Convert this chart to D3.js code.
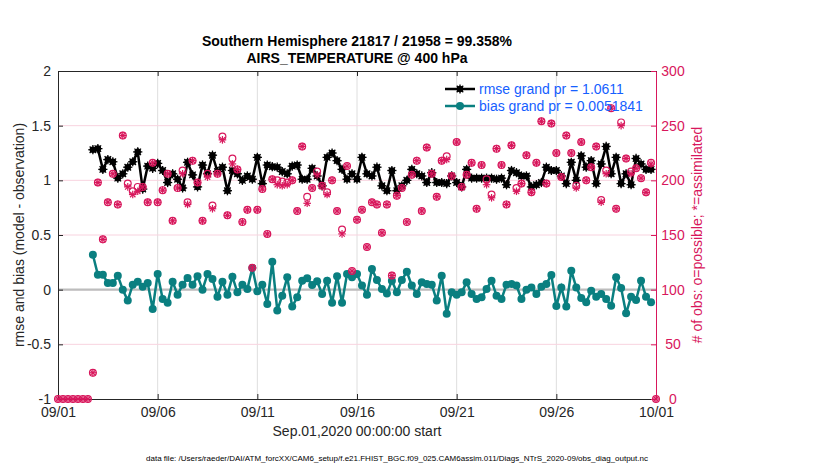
<!DOCTYPE html>
<html>
<head>
<meta charset="utf-8">
<script src="https://cdn.jsdelivr.net/npm/d3@7"></script>
<style>
  body { margin: 0; background: #fff; }
  svg text { font-family: "Liberation Sans", Arial, Helvetica, sans-serif; }
</style>
</head>
<body>
<div id="chart"></div>
<script>
// 6-hourly bins, index 0 = Sep.01,2020 00:00, index 120 = Oct.01 00:00
var startDate = "2020-09-01T00:00:00Z",
    endDate = "2020-10-01T00:00:00Z";

var rmse = [null, null, null, null, null, null, null,
  1.28, 1.29, 1.10, 1.19, 1.17, 1.02, 1.06, 1.12, 1.17, 1.26,
  0.92, 1.13, 1.11, 1.155, 1.09, 0.98, 1.06, 1.01, 0.93, 1.165,
  1.05, 0.94, 1.14, 1.06, 1.23, 1.08, 1.12, 0.905, 1.09, 1.06,
  1.00, 1.04, 1.01, 1.21, 0.97, 1.14, 1.125, 1.12, 1.08, 1.06,
  1.13, 1.14, 1.01, 1.01, 1.11, 1.04, 0.95, 1.21, 1.25, 1.18,
  1.10, 1.01, 1.06, 1.01, 1.21, 1.06, 1.04, 1.12, 0.95, 0.905,
  1.09, 0.905, 0.95, 1.00, 1.10, 1.06, 1.04, 0.98, 1.07, 0.98,
  0.98, 0.97, 1.04, 0.98, 0.94, 1.10, 1.02, 1.02, 1.02, 1.02,
  1.02, 1.01, 1.02, 0.96, 1.09, 1.07, 1.04, 1.04, 0.94, 0.96,
  0.98, 1.12, 1.09, 1.09, 1.04, 0.97, 1.165, 1.00, 1.225, 1.12,
  1.18, 0.97, 1.15, 1.31, 1.06, 1.21, 0.97, 1.06, 0.96, 1.20,
  1.15, 1.10, 1.10,
  null];

var bias = [null, null, null, null, null, null, null,
  0.32, 0.137, 0.137, 0.06, 0.06, 0.128, 0.0, -0.10, 0.045, 0.073,
  0.027, 0.06, -0.177, 0.143, -0.085, -0.12, 0.073, -0.046, 0.045, 0.107,
  0.045, 0.122, 0.0, 0.143, 0.098, -0.064, 0.073, -0.046, 0.119, -0.024,
  0.045, 0.006, 0.198, -0.015, 0.045, -0.13, 0.256, -0.19, -0.055, 0.113,
  -0.155, -0.07, 0.082, 0.104, 0.043, 0.076, -0.04, 0.082, -0.12, 0.122,
  -0.12, 0.143, 0.113, 0.143, 0.037, -0.046, 0.19, 0.088, 0.006, -0.034,
  0.082, -0.024, 0.088, 0.165, 0.037, -0.04, 0.067, 0.052, 0.046, -0.10,
  0.128, -0.22, -0.024, -0.046, -0.024, 0.067, -0.04, -0.085, -0.07, 0.006,
  0.082, -0.055, -0.085, 0.046, 0.052, 0.037, -0.085, 0.0, 0.02, -0.04,
  0.027, 0.052, 0.134, -0.15, 0.02, -0.155, 0.174, 0.02, -0.076, -0.116,
  -0.01, -0.064, -0.04, -0.085, -0.146, 0.113, 0.015, -0.216, -0.064, -0.095,
  0.082, -0.064, -0.116,
  null];

// number of obs: o = possible, * = assimilated
var nPossible = [
  0, 0, 0, 0, 0, 0, 0, 24, 198, 146,
  180, 206, 178, 241, 197, 190, 194, 194, 180, 216,
  180, 191, 206, 163, 193, 209, 180, 218, 198, 163,
  206, 177, 206, 240, 168, 220, 210, 162, 173, 120,
  173, 192, 151, 201, 200, 199, 198, 200, 172, 231,
  185, 193, 208, 195, 189, 200, 172, 155, 213, 117,
  164, 173, 139, 180, 178, 152, 178, 113, 186, 193,
  162, 205, 218, 172, 230, 206, 185, 218, 222, 204,
  235, 194, 205, 216, 174, 214, 201, 187, 229, 214,
  178, 232, 193, 197, 223, 189, 216, 254, 197, 252,
  225, 203, 241, 225, 195, 235, 200, 212, 231, 182,
  209, 266, 174, 253, 220, 208, 211, 202, 189, 216,
  0];

var nAssim = [
  0, 0, 0, 0, 0, 0, 0, 24, 198, 146,
  180, 206, 178, 241, 194, 187, 190, 194, 180, 216,
  180, 191, 206, 163, 193, 206, 178, 218, 198, 163,
  203, 174, 206, 237, 168, 215, 210, 162, 173, 120,
  173, 192, 151, 201, 196, 195, 196, 200, 172, 231,
  179, 193, 205, 195, 187, 200, 172, 151, 213, 117,
  164, 173, 139, 180, 178, 152, 178, 113, 186, 193,
  162, 205, 218, 172, 230, 206, 185, 218, 219, 204,
  235, 194, 205, 216, 174, 214, 196, 184, 229, 214,
  178, 232, 190, 197, 223, 189, 216, 254, 197, 252,
  225, 203, 241, 225, 193, 235, 200, 212, 231, 180,
  206, 266, 174, 250, 220, 206, 211, 202, 189, 215,
  0];

var dateTicks = ["2020-09-01", "2020-09-06", "2020-09-11", "2020-09-16",
                 "2020-09-21", "2020-09-26", "2020-10-01"];
var leftTicks = [-1, -0.5, 0, 0.5, 1, 1.5, 2];
var rightTicks = [0, 50, 100, 150, 200, 250, 300];

var titleLines = ["Southern Hemisphere 21817 / 21958 = 99.358%",
                  "AIRS_TEMPERATURE @ 400 hPa"];
var legendLabels = ["rmse grand pr = 1.0611", "bias grand pr = 0.0051841"];

var width = 830, height = 470;
// plot box (note: "top" is a reserved window property, so use plotTop)
var plotLeft = 58, plotRight = 656, plotTop = 71, plotBottom = 399;

var RED = "#d8175c", TEAL = "#0a7f80", BLUE = "#1560ff", AX = "#262626";

var svg = d3.select("#chart").append("svg")
  .attr("width", width)
  .attr("height", height);

var t0 = new Date(startDate);
var times = nPossible.map(function(d, i) { return d3.utcHour.offset(t0, 6 * i); });

var x = d3.scaleUtc()
  .domain([t0, new Date(endDate)])
  .range([plotLeft, plotRight]);
var yL = d3.scaleLinear().domain([-1, 2]).range([plotBottom, plotTop]);
var yR = d3.scaleLinear().domain([0, 300]).range([plotBottom, plotTop]);

var tickDates = dateTicks.map(function(s) { return new Date(s + "T00:00:00Z"); });

// grid lines
svg.append("g").selectAll("line")
  .data(tickDates.slice(1, -1))
  .enter().append("line")
    .attr("x1", function(d) { return x(d); })
    .attr("x2", function(d) { return x(d); })
    .attr("y1", plotTop).attr("y2", plotBottom)
    .attr("stroke", "#dedede").attr("stroke-width", 1);

svg.append("g").selectAll("line")
  .data(rightTicks.slice(1, -1))
  .enter().append("line")
    .attr("x1", plotLeft).attr("x2", plotRight)
    .attr("y1", function(d) { return yR(d); })
    .attr("y2", function(d) { return yR(d); })
    .attr("stroke", "#f8d3df").attr("stroke-width", 1);

// zero line
svg.append("line")
  .attr("x1", plotLeft).attr("x2", plotRight)
  .attr("y1", yL(0)).attr("y2", yL(0))
  .attr("stroke", "#bdbdbd").attr("stroke-width", 2.2);

// axes
var xAxis = d3.axisBottom(x)
  .tickValues(tickDates)
  .tickFormat(d3.utcFormat("%m/%d"))
  .tickSizeInner(-5).tickSizeOuter(0).tickPadding(8);
var gx = svg.append("g")
  .attr("transform", "translate(0," + plotBottom + ")")
  .call(xAxis);

var gxTop = svg.append("g")
  .attr("transform", "translate(0," + plotTop + ")")
  .call(d3.axisTop(x).tickValues(tickDates).tickFormat("")
    .tickSizeInner(-5).tickSizeOuter(0));

var gyL = svg.append("g")
  .attr("transform", "translate(" + plotLeft + ",0)")
  .call(d3.axisLeft(yL).tickValues(leftTicks)
    .tickFormat(function(d) { return d; })
    .tickSizeInner(-5).tickSizeOuter(0).tickPadding(7));

var gyR = svg.append("g")
  .attr("transform", "translate(" + plotRight + ",0)")
  .call(d3.axisRight(yR).tickValues(rightTicks)
    .tickSizeInner(-5).tickSizeOuter(0).tickPadding(7));

[gx, gxTop, gyL].forEach(function(g) {
  g.select(".domain").attr("stroke", AX).attr("stroke-width", 1);
  g.selectAll(".tick line").attr("stroke", AX);
  g.selectAll("text").attr("fill", AX).style("font-size", "14px");
});
gyR.select(".domain").attr("stroke", RED);
gyR.selectAll(".tick line").attr("stroke", RED);
gyR.selectAll("text")
  .attr("fill", RED).style("font-size", "14px")
  .attr("text-anchor", "middle").attr("x", 17);

// 4-stroke asterisk marker
function spokes(sel, r, color, w) {
  for (var k = 0; k < 4; k++) {
    var a = k * Math.PI / 4;
    sel.append("line")
      .attr("x1", -r * Math.cos(a)).attr("y1", -r * Math.sin(a))
      .attr("x2", r * Math.cos(a)).attr("y2", r * Math.sin(a))
      .attr("stroke", color).attr("stroke-width", w);
  }
}

var idx = d3.range(times.length);
var rIdx = idx.filter(function(i) { return rmse[i] != null; });
var bIdx = idx.filter(function(i) { return bias[i] != null; });

var lineR = d3.line()
  .x(function(i) { return x(times[i]); })
  .y(function(i) { return yL(rmse[i]); });
var lineB = d3.line()
  .x(function(i) { return x(times[i]); })
  .y(function(i) { return yL(bias[i]); });

// rmse line + markers
svg.append("path").datum(rIdx)
  .attr("d", lineR).attr("fill", "none")
  .attr("stroke", "#000").attr("stroke-width", 2.5);
svg.append("g").selectAll("g")
  .data(rIdx).enter().append("g")
    .attr("transform", function(i) { return "translate(" + x(times[i]) + "," + yL(rmse[i]) + ")"; })
    .each(function() {
      var g = d3.select(this);
      g.append("circle").attr("r", 3.3).attr("fill", "#000");
      spokes(g, 4.6, "#000", 1.3);
    });

// bias line + markers
svg.append("path").datum(bIdx)
  .attr("d", lineB).attr("fill", "none")
  .attr("stroke", TEAL).attr("stroke-width", 2.5);
svg.append("g").selectAll("circle")
  .data(bIdx).enter().append("circle")
    .attr("cx", function(i) { return x(times[i]); })
    .attr("cy", function(i) { return yL(bias[i]); })
    .attr("r", 4)
    .attr("fill", TEAL);

// obs counts on the right axis
svg.append("g").selectAll("circle")
  .data(idx).enter().append("circle")
    .attr("cx", function(i) { return x(times[i]); })
    .attr("cy", function(i) { return yR(nPossible[i]); })
    .attr("r", 3.4)
    .attr("fill", "none")
    .attr("stroke", RED).attr("stroke-width", 1.2);
svg.append("g").selectAll("g")
  .data(idx).enter().append("g")
    .attr("transform", function(i) { return "translate(" + x(times[i]) + "," + yR(nAssim[i]) + ")"; })
    .each(function() { spokes(d3.select(this), 3.8, RED, 1.2); });

// titles
svg.append("g").selectAll("text")
  .data(titleLines).enter().append("text")
    .attr("x", 357)
    .attr("y", function(d, i) { return 46 + i * 17; })
    .attr("text-anchor", "middle")
    .style("font-size", "14px").style("font-weight", "bold")
    .attr("fill", "#000")
    .text(function(d) { return d; });

// axis labels
svg.append("text")
  .attr("transform", "translate(24," + ((plotTop + plotBottom) / 2) + ") rotate(-90)")
  .attr("text-anchor", "middle")
  .style("font-size", "14px").attr("fill", AX)
  .text("rmse and bias (model - observation)");

svg.append("text")
  .attr("transform", "translate(702," + ((plotTop + plotBottom) / 2) + ") rotate(-90)")
  .attr("text-anchor", "middle")
  .style("font-size", "14px").attr("fill", RED)
  .text("# of obs: o=possible; *=assimilated");

svg.append("text")
  .attr("x", 357).attr("y", 436)
  .attr("text-anchor", "middle")
  .style("font-size", "14px").attr("fill", AX)
  .text("Sep.01,2020 00:00:00 start");

svg.append("text")
  .attr("x", 397).attr("y", 461)
  .attr("text-anchor", "middle")
  .style("font-size", "8px").attr("fill", "#000")
  .text("data file: /Users/raeder/DAI/ATM_forcXX/CAM6_setup/f.e21.FHIST_BGC.f09_025.CAM6assim.011/Diags_NTrS_2020-09/obs_diag_output.nc");

// legend
var legend = svg.append("g").attr("transform", "translate(445,89)");
var legendColors = ["#000", TEAL];
legendLabels.forEach(function(lab, i) {
  var g = legend.append("g").attr("transform", "translate(0," + (i * 17) + ")");
  g.append("line").attr("x1", 0).attr("x2", 30)
    .attr("stroke", legendColors[i]).attr("stroke-width", 2.5);
  var m = g.append("g").attr("transform", "translate(15,0)");
  if (i === 0) {
    m.append("circle").attr("r", 3.3).attr("fill", "#000");
    spokes(m, 4.6, "#000", 1.3);
  } else {
    m.append("circle").attr("r", 4).attr("fill", TEAL);
  }
  g.append("text").attr("x", 34).attr("y", 5)
    .style("font-size", "14px").attr("fill", BLUE)
    .text(lab);
});
</script>
</body>
</html>
